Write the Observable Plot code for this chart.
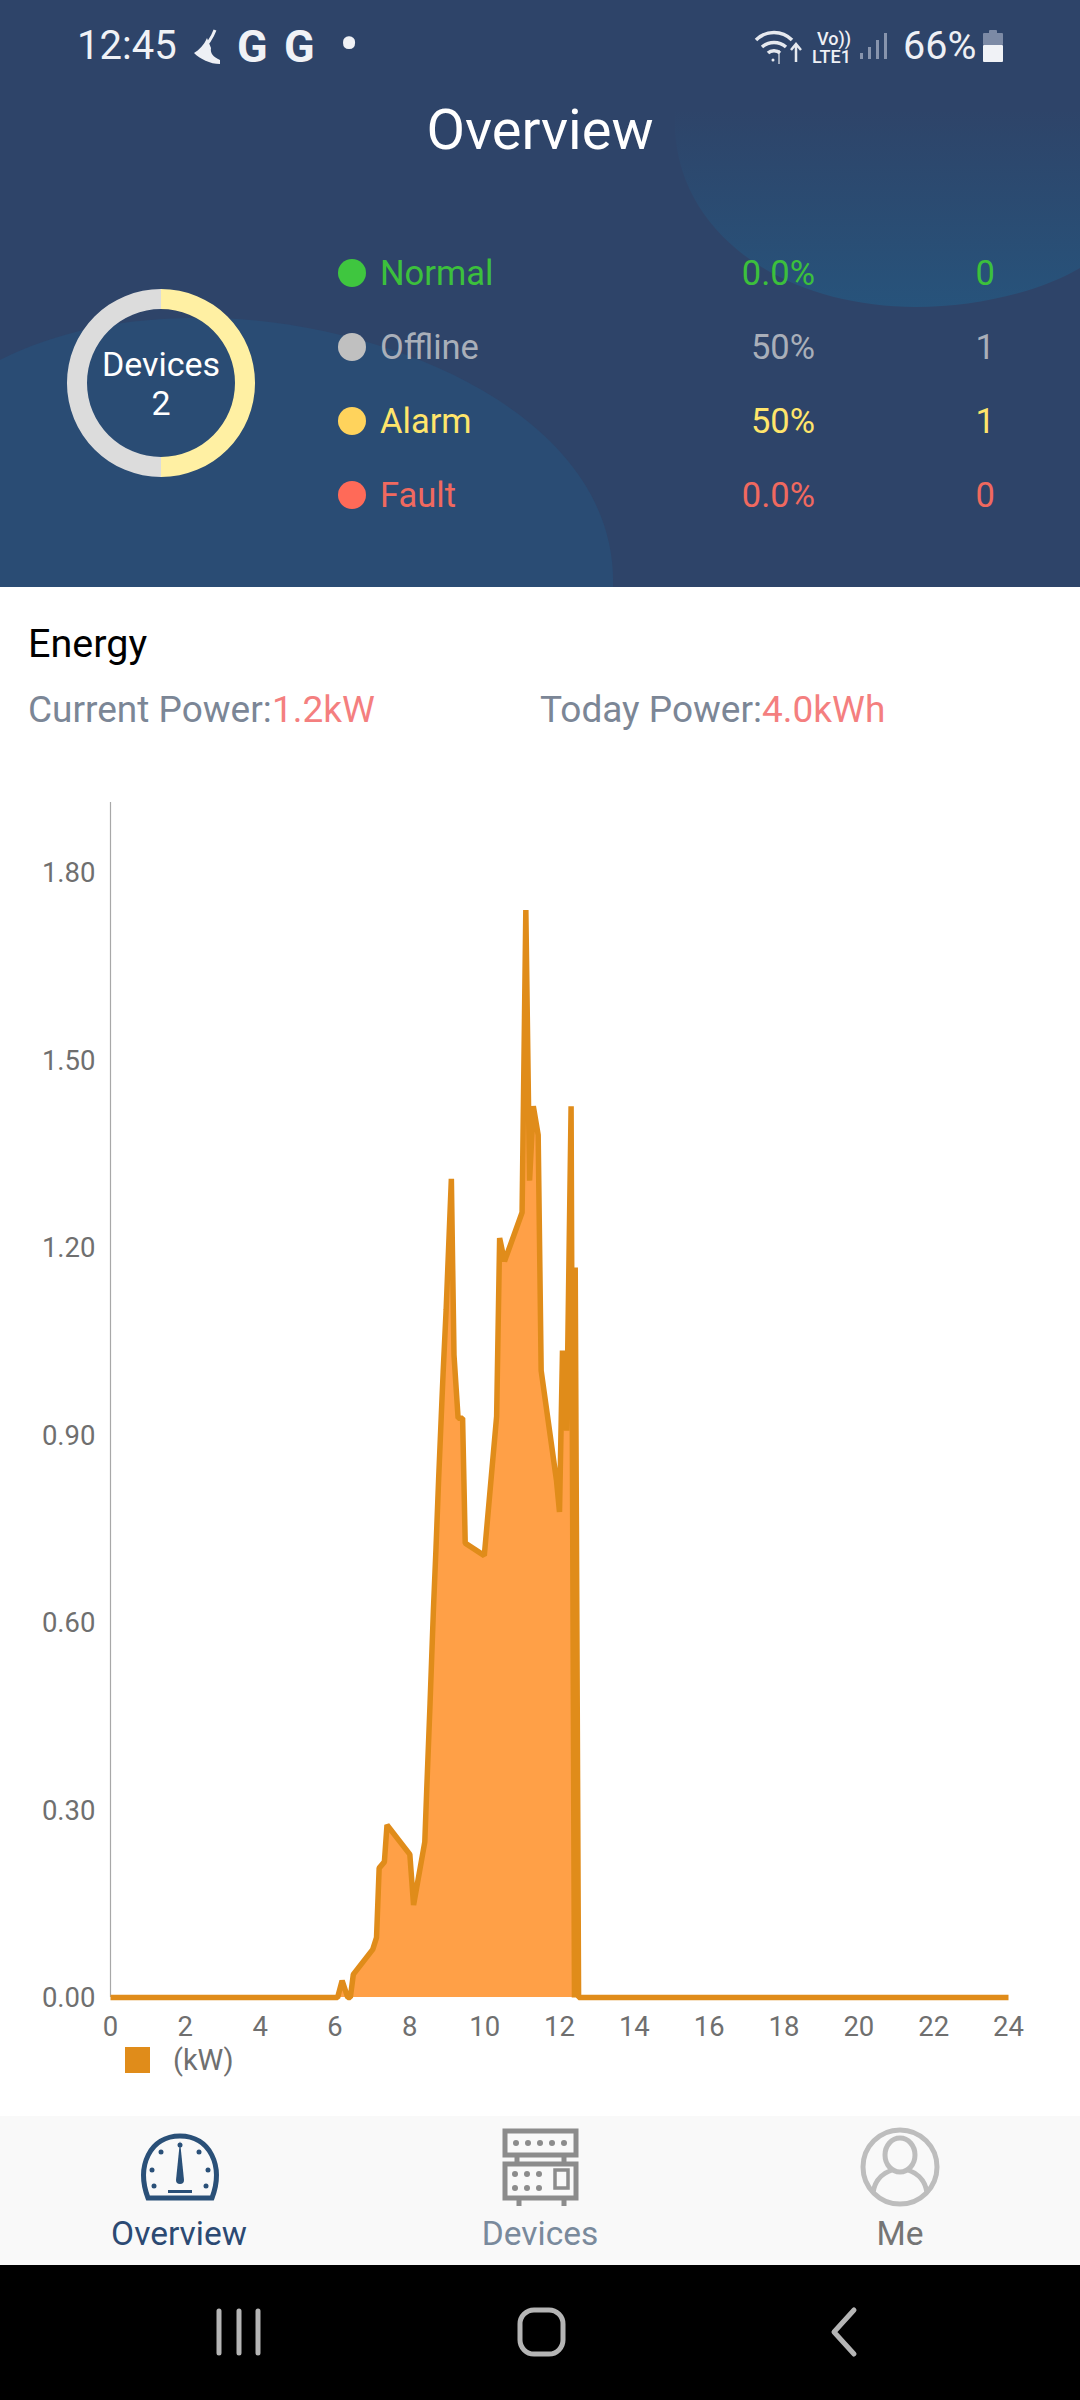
<!DOCTYPE html>
<html><head><meta charset="utf-8">
<script src="https://cdn.jsdelivr.net/npm/d3@7"></script>
<script src="https://cdn.jsdelivr.net/npm/@observablehq/plot@0.6"></script>
<style>
html,body{margin:0;padding:0;background:#fff}
#page{position:relative;width:1080px;height:2400px;overflow:hidden;font-family:Roboto,sans-serif;background:#fff}
#page>*{position:absolute}
.t{white-space:nowrap;line-height:1;transform:translateY(-50%)}
.r{transform:translate(-100%,-50%)}
.c{transform:translate(-50%,-50%)}
.dot{border-radius:50%;width:28px;height:28px;left:338px;transform:translateY(-50%)}
</style></head><body>
<div id="page">
<svg style="left:0;top:0" width="1080" height="587">
<defs><linearGradient id="g1" x1="0" y1="0" x2="0" y2="1"><stop offset="0.2" stop-color="#2e4469"/><stop offset="1" stop-color="#27537b"/></linearGradient></defs>
<rect width="1080" height="587" fill="#2e4469"/>
<path d="M675 110C668 230 780 307 916 307C975 307 1040 292 1080 268L1080 60L690 60Z" fill="url(#g1)"/>
<path d="M0 360C60 330 130 316 220 318C400 325 618 420 613 587L0 587Z" fill="#2a4c74"/>
</svg>
<svg style="left:0;top:2116px" width="1080" height="284">
<rect width="1080" height="149" fill="#f9f9f9"/><rect y="149" width="1080" height="135" fill="#000"/>
<g fill="none" stroke="#b5b5b5" stroke-width="5" stroke-linecap="round" stroke-linejoin="round">
<path d="M219 195V237M239 195V237M258 195V237"/><rect x="520" y="194" width="43" height="44" rx="14"/><path d="M854 194L834 216L854 238"/>
</g>
<g fill="none" stroke="#2a5078" stroke-width="5"><path d="M148 82C136 50 150 20 180 20C210 20 224 50 212 82Z"/></g>
<g fill="#2a5078"><path d="M180 25L184 64A4 4 0 0 1 176 64Z"/><rect x="168" y="74" width="24" height="3"/><circle cx="180" cy="29" r="2.5"/><circle cx="161" cy="36" r="2.5"/><circle cx="199" cy="36" r="2.5"/><circle cx="152" cy="54" r="2.5"/><circle cx="208" cy="54" r="2.5"/><circle cx="154" cy="70" r="2.5"/><circle cx="206" cy="70" r="2.5"/></g>
<g fill="none" stroke="#8c8c8c" stroke-width="5"><rect x="505" y="15" width="71" height="24"/><rect x="505" y="48" width="71" height="34"/><path d="M517 39V48M564 39V48M519 82V90M564 82V90"/><rect x="555" y="54" width="13" height="18" stroke-width="3.5"/></g>
<g fill="#8c8c8c"><circle cx="516" cy="27" r="3"/><circle cx="528" cy="27" r="3"/><circle cx="540" cy="27" r="3"/><circle cx="552" cy="27" r="3"/><circle cx="564" cy="27" r="3"/><circle cx="515" cy="58" r="3"/><circle cx="527" cy="58" r="3"/><circle cx="539" cy="58" r="3"/><circle cx="515" cy="72" r="3"/><circle cx="527" cy="72" r="3"/><circle cx="539" cy="72" r="3"/></g>
<g fill="none" stroke="#bdbdbd" stroke-width="5"><circle cx="900" cy="51" r="37"/><ellipse cx="900" cy="39" rx="15" ry="17"/><path d="M873 77C875 62 886 56 892 54M927 77C925 62 914 56 908 54"/></g>
</svg>
<svg style="left:190px;top:26px" width="36" height="40" fill="none" stroke="#eef0f5"><path d="M25 4C22 12 18 18 11 25" stroke-width="3"/><path d="M17 12L21 22C20 27 23 31 30 34L30 38C20 38 10 33 4 27C9 24 14 19 17 12Z" fill="#eef0f5" stroke="none"/></svg>
<svg style="left:752px;top:26px" width="60" height="40" fill="none" stroke="#e6e9ef" stroke-width="3.5"><path d="M4 14C14 4 30 4 40 14M10 21C17 15 27 15 34 21M16 27C19 24 25 24 28 27"/><path d="M44 36V18M39 24L44 18L49 24" stroke-width="2.5"/><path d="M27 38V24" stroke-width="2" opacity=".6"/><circle cx="21" cy="34" r="1.5" fill="#e6e9ef" stroke="none"/></svg>
<svg style="left:858px;top:30px" width="34" height="32"><g fill="#8794ad"><rect x="2" y="23" width="3" height="6"/><rect x="10" y="17" width="3" height="12"/><rect x="18" y="10" width="3" height="19"/><rect x="26" y="3" width="3" height="26"/></g></svg>
<svg style="left:982px;top:30px" width="22" height="34"><rect x="7" y="0" width="8" height="4" rx="1" fill="#7c8aa5"/><rect x="1" y="3" width="20" height="12" rx="1" fill="#7c8aa5"/><rect x="1" y="15" width="20" height="17" rx="1" fill="#f0f2f6"/></svg>
<div id="chart" style="left:0;top:760px"></div>
<div id="donut" style="left:61px;top:283px"></div>
<div id="texts" style="left:0;top:0;width:1080px;height:2400px"></div>
</div>
<script>
// Status list
const statusNames = ["Normal", "Offline", "Alarm", "Fault"];
const statusPercents = ["0.0%", "50%", "50%", "0.0%"];
const statusCounts = [0, 1, 1, 0];
const statusDotColors = ["#3fc63f", "#c0c0c0", "#ffd35c", "#ff6a58"];
const statusTextColors = ["#3cc03c", "#a9afb9", "#ffe56b", "#f0695f"];
// Donut slices, clockwise from the top
const sliceNames = ["Alarm", "Offline"];
const sliceCounts = [1, 1];
const sliceColors = ["#fff0a3", "#dcdcdc"];
// Power curve
const hours = [0,6.07,6.19,6.34,6.41,6.49,7.01,7.11,7.18,7.32,7.39,8.0,8.10,8.40,8.45,8.54,8.63,8.70,8.77,8.84,8.89,8.97,9.11,9.18,9.29,9.41,9.48,9.99,10.32,10.40,10.53,11.0,11.10,11.20,11.30,11.43,11.51,11.92,12.0,12.08,12.19,12.31,12.40,12.42,12.51,24];
const kw = [0,0,0.027,0,0,0.037,0.077,0.096,0.207,0.217,0.276,0.229,0.148,0.249,0.33,0.47,0.62,0.72,0.83,0.93,1.0,1.1,1.31,1.028,0.927,0.927,0.727,0.707,0.93,1.215,1.178,1.256,1.74,1.307,1.426,1.38,1.003,0.827,0.777,1.035,0.907,1.426,0,1.168,0,0];
const xTicks = [0,2,4,6,8,10,12,14,16,18,20,22,24];
const yTicks = [0,0.3,0.6,0.9,1.2,1.5,1.8];

const curve = hours.map((h, i) => ({h, v: kw[i]}));
const chart = Plot.plot({
  width: 1080, height: 1300,
  marginLeft: 110, marginRight: 72, marginTop: 42, marginBottom: 63,
  style: {fontFamily: "Roboto, sans-serif", background: "transparent", overflow: "visible"},
  x: {domain: [0, 24], axis: null},
  y: {domain: [0, 1.912], axis: null},
  marks: [
    Plot.ruleX([0], {stroke: "#a8a8a8", strokeWidth: 1.2}),
    Plot.areaY(curve, {x: "h", y: "v", fill: "#ffa047"}),
    Plot.line(curve, {x: "h", y: "v", stroke: "#e08c1a", strokeWidth: 5.5, strokeLinejoin: "bevel", strokeLinecap: "butt"}),
    Plot.axisX({ticks: xTicks, tickSize: 0, tickPadding: 19, label: null, fontSize: 27.5, color: "#6f6f6f", tickFormat: d => String(d)}),
    Plot.axisY({ticks: yTicks, tickSize: 0, tickPadding: 15, dy: 1, label: null, fontSize: 27.5, color: "#6f6f6f", tickFormat: d3.format(".2f")})
  ]
});
document.getElementById("chart").append(chart);

const donut = Plot.plot({
  width: 200, height: 200, margin: 0,
  style: {background: "transparent"},
  marks: [
    (index, scales, values, {width, height}) => {
      const g = d3.create("svg:g").attr("transform", `translate(${width / 2},${height / 2})`);
      const arc = d3.arc().innerRadius(74).outerRadius(94);
      const arcs = d3.pie().sort(null)(sliceCounts);
      g.selectAll("path").data(arcs).join("path").attr("d", arc).attr("fill", (d, i) => sliceColors[i]);
      return g.node();
    }
  ]
});
document.getElementById("donut").append(donut);

const T = document.getElementById("texts");
function txt(s, x, y, size, color, cls = "", weight = 400) {
  const d = document.createElement("div");
  d.className = "t " + cls;
  d.textContent = s;
  d.style.cssText = `position:absolute;left:${x}px;top:${y}px;font-size:${size}px;color:${color};font-weight:${weight}`;
  T.append(d);
  return d;
}
txt("12:45", 77, 46, 40, "#f0f2f6");
txt("G", 237, 46, 45, "#f0f2f6", "", 700);
txt("G", 284, 46, 45, "#f0f2f6", "", 700);
txt("•", 349, 45, 60, "#f0f2f6", "c");
txt("Vo))", 817, 39, 18, "#eef0f5", "", 500);
txt("LTE1", 812, 57, 18, "#eef0f5", "", 500);
txt("66%", 903, 46, 39.5, "#eef0f5");
txt("Overview", 540, 130, 56, "#ffffff", "c");
txt("Devices", 161, 364, 34, "#ffffff", "c");
txt(String(d3.sum(statusCounts)), 161, 403, 34, "#ffffff", "c");
const rowY = [273, 347, 421, 495];
statusNames.forEach((n, i) => {
  const dot = document.createElement("div");
  dot.className = "dot";
  dot.style.cssText = `position:absolute;top:${rowY[i]}px;background:${statusDotColors[i]}`;
  T.append(dot);
  txt(n, 380, rowY[i], 34.5, statusTextColors[i]);
  txt(statusPercents[i], 815, rowY[i], 34.5, statusTextColors[i], "r");
  txt(String(statusCounts[i]), 995, rowY[i], 34.5, statusTextColors[i], "r");
});
txt("Energy", 28, 644, 39.5, "#000000");
const grey = "#7b8696", red = "#f47f7f";
const a = txt("Current Power:", 28, 709, 37, grey);
txt("1.2kW", 28 + a.offsetWidth, 709, 37, red);
const b = txt("Today Power:", 540, 709, 37, grey);
txt("4.0kWh", 540 + b.offsetWidth, 709, 37, red);
const sw = document.createElement("div");
sw.style.cssText = "position:absolute;left:125px;top:2047px;width:25px;height:26px;background:#e08c1a";
T.append(sw);
txt("(kW)", 173, 2060, 29, "#6f6f6f");
txt("Overview", 179, 2234, 33.5, "#2c4a73", "c");
txt("Devices", 540, 2234, 33.5, "#7a8a9c", "c");
txt("Me", 900, 2234, 33.5, "#757575", "c");
</script>
</body></html>
